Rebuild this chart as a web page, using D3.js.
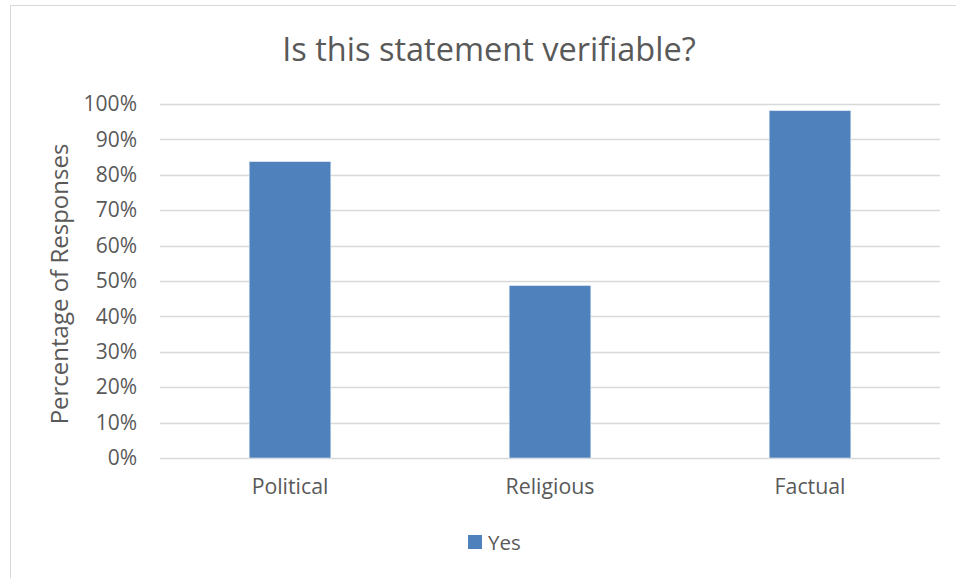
<!DOCTYPE html>
<html>
<head>
<meta charset="utf-8">
<script src="https://cdn.jsdelivr.net/npm/d3@7/dist/d3.min.js"></script>
<style>
  html, body { margin: 0; padding: 0; background: #fff; }
  svg { display: block; font-family: "Open Sans", sans-serif; }
</style>
</head>
<body>
<svg id="chart" width="956" height="578"></svg>
<script>
// Share of "Yes" answers per statement type
const categories = ["Political", "Religious", "Factual"];
const yesValues = [0.837, 0.487, 0.981];
const yTicks = [0, 0.1, 0.2, 0.3, 0.4, 0.5, 0.6, 0.7, 0.8, 0.9, 1.0];
const seriesName = "Yes";
const titleText = "Is this statement verifiable?";
const yAxisTitle = "Percentage of Responses";

const svg = d3.select("#chart");
const textColor = "#595959";
const barColor = "#4F81BD";

// Chart frame (left and top edges lie inside the view)
svg.append("rect")
  .attr("x", 10.5).attr("y", 5.5)
  .attr("width", 980).attr("height", 600)
  .attr("fill", "#fff")
  .attr("stroke", "#d9d9d9")
  .attr("stroke-width", 1);

const plot = { left: 160, right: 940, top: 104, bottom: 458 };

const x = d3.scaleBand()
  .domain(categories)
  .range([plot.left, plot.right])
  .paddingInner(0.686)
  .paddingOuter(0.343);

const y = d3.scaleLinear()
  .domain([0, 1])
  .range([plot.bottom, plot.top]);

// Gridlines
svg.append("g")
  .selectAll("line")
  .data(yTicks)
  .join("line")
  .attr("x1", plot.left).attr("x2", plot.right)
  .attr("y1", d => Math.round(y(d)) + 0.5)
  .attr("y2", d => Math.round(y(d)) + 0.5)
  .attr("stroke", "#d9d9d9")
  .attr("stroke-width", 1.3);

// Y axis labels
const yAxis = d3.axisLeft(y)
  .tickValues(yTicks)
  .tickFormat(d3.format(".0%"))
  .tickSize(0)
  .tickPadding(23);

svg.append("g")
  .attr("transform", `translate(${plot.left},0)`)
  .call(yAxis)
  .call(g => g.select(".domain").remove())
  .call(g => g.selectAll("text")
    .attr("fill", textColor)
    .attr("font-family", "'Open Sans', sans-serif")
    .attr("font-size", 21));

// Bars
svg.append("g")
  .selectAll("rect")
  .data(categories.map((c, i) => ({ c, v: yesValues[i] })))
  .join("rect")
  .attr("x", d => x(d.c))
  .attr("width", x.bandwidth())
  .attr("y", d => y(d.v))
  .attr("height", d => y(0) - y(d.v))
  .attr("fill", barColor)
  .attr("stroke", "#dce6f2")
  .attr("stroke-width", 0.6);

// X axis labels
const xAxis = d3.axisBottom(x).tickSize(0).tickPadding(21);
svg.append("g")
  .attr("transform", `translate(0,${plot.bottom})`)
  .call(xAxis)
  .call(g => g.select(".domain").remove())
  .call(g => g.selectAll("text")
    .attr("fill", textColor)
    .attr("font-family", "'Open Sans', sans-serif")
    .attr("font-size", 21.3));

// Title
svg.append("text")
  .attr("x", 489).attr("y", 61)
  .attr("text-anchor", "middle")
  .attr("fill", textColor)
  .attr("font-size", 32.5)
  .text(titleText);

// Y axis title
svg.append("text")
  .attr("transform", `translate(68,284) rotate(-90)`)
  .attr("text-anchor", "middle")
  .attr("fill", textColor)
  .attr("font-size", 24)
  .text(yAxisTitle);

// Legend
const legend = svg.append("g").attr("transform", "translate(468,535)");
legend.append("rect")
  .attr("width", 14).attr("height", 14)
  .attr("fill", barColor);
legend.append("text")
  .attr("x", 20).attr("y", 14.5)
  .attr("fill", textColor)
  .attr("font-size", 20.5)
  .text(seriesName);
</script>
</body>
</html>
